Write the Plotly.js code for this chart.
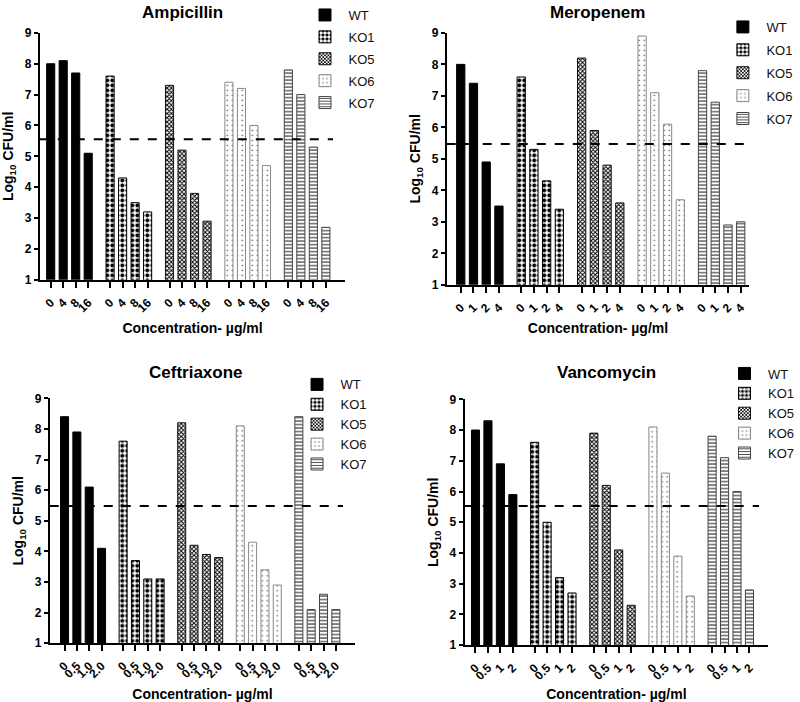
<!DOCTYPE html>
<html><head><meta charset="utf-8">
<script src="https://cdn.plot.ly/plotly-3.0.1.min.js"></script>
<style>body{margin:0;background:#fff}</style>
</head><body><div id="chart" style="width:800px;height:702px"></div>
<script>
// ---------------- DATA ----------------
const strains = ['WT', 'KO1', 'KO5', 'KO6', 'KO7'];
const drugTitles = ['Ampicillin', 'Meropenem', 'Ceftriaxone', 'Vancomycin'];

const ampicillinConc = ['0', '4', '8', '16'];
const ampicillinWT  = [8.0, 8.1, 7.7, 5.1];
const ampicillinKO1 = [7.6, 4.3, 3.5, 3.2];
const ampicillinKO5 = [7.3, 5.2, 3.8, 2.9];
const ampicillinKO6 = [7.4, 7.2, 6.0, 4.7];
const ampicillinKO7 = [7.8, 7.0, 5.3, 2.7];

const meropenemConc = ['0', '1', '2', '4'];
const meropenemWT  = [8.0, 7.4, 4.9, 3.5];
const meropenemKO1 = [7.6, 5.3, 4.3, 3.4];
const meropenemKO5 = [8.2, 5.9, 4.8, 3.6];
const meropenemKO6 = [8.9, 7.1, 6.1, 3.7];
const meropenemKO7 = [7.8, 6.8, 2.9, 3.0];

const ceftriaxoneConc = ['0', '0.5', '1.0', '2.0'];
const ceftriaxoneWT  = [8.4, 7.9, 6.1, 4.1];
const ceftriaxoneKO1 = [7.6, 3.7, 3.1, 3.1];
const ceftriaxoneKO5 = [8.2, 4.2, 3.9, 3.8];
const ceftriaxoneKO6 = [8.1, 4.3, 3.4, 2.9];
const ceftriaxoneKO7 = [8.4, 2.1, 2.6, 2.1];

const vancomycinConc = ['0', '0.5', '1', '2'];
const vancomycinWT  = [8.0, 8.3, 6.9, 5.9];
const vancomycinKO1 = [7.6, 5.0, 3.2, 2.7];
const vancomycinKO5 = [7.9, 6.2, 4.1, 2.3];
const vancomycinKO6 = [8.1, 6.6, 3.9, 2.6];
const vancomycinKO7 = [7.8, 7.1, 6.0, 2.8];

const thresholds = [5.55, 5.47, 5.48, 5.53];

const panelConc = [ampicillinConc, meropenemConc, ceftriaxoneConc, vancomycinConc];
const panelValues = [
  [ampicillinWT, ampicillinKO1, ampicillinKO5, ampicillinKO6, ampicillinKO7],
  [meropenemWT, meropenemKO1, meropenemKO5, meropenemKO6, meropenemKO7],
  [ceftriaxoneWT, ceftriaxoneKO1, ceftriaxoneKO5, ceftriaxoneKO6, ceftriaxoneKO7],
  [vancomycinWT, vancomycinKO1, vancomycinKO5, vancomycinKO6, vancomycinKO7]
];

// ---------------- LAYOUT / STYLE ----------------
const W = 800, H = 702;
const px = x => x / W;
const py = y => 1 - y / H;
const GROUP_STEP = 4.75;

const panels = [
  {dx: [40, 347], dy: [30, 278], range: [-0.87, 23.55], title: [183, 10], leg: [350, 11], gap: 2, dashEnd: 0.96, xts: 9},
  {dx: [449, 753], dy: [30, 283], range: [-1.1, 22.67], title: [600, 10], leg: [770, 23], gap: 3, dashEnd: 1.0, xts: 9},
  {dx: [50, 357], dy: [397, 643], range: [-1.2, 23.57], title: [197, 371], leg: [342, 382], gap: 0, dashEnd: 0.96, xts: 12},
  {dx: [467, 772], dy: [398, 645], range: [-0.87, 23.5], title: [610, 371], leg: [772, 371], gap: 0, dashEnd: 0.97, xts: 10}
];

const FONT = "Arial, 'Liberation Sans', sans-serif";

const strainStyles = {
  WT:  {color: '#000', line: {color: '#000', width: 1}},
  KO1: {color: '#fff', line: {color: '#000', width: 1},
        pattern: {shape: '.', fgcolor: '#000', bgcolor: '#fff', size: 5, solidity: 0.5, fillmode: 'replace'}},
  KO5: {color: '#fff', line: {color: '#111', width: 1},
        pattern: {shape: 'x', fgcolor: '#000', bgcolor: '#fff', size: 3, solidity: 0.55, fillmode: 'replace'}},
  KO6: {color: '#fff', line: {color: '#888', width: 1},
        pattern: {shape: '.', fgcolor: '#555', bgcolor: '#fff', size: 5, solidity: 0.08, fillmode: 'replace'}},
  KO7: {color: '#fff', line: {color: '#444', width: 1},
        pattern: {shape: '-', fgcolor: '#444', bgcolor: '#fff', size: 3.5, solidity: 0.35, fillmode: 'replace'}}
};

const traces = [];
const layout = {
  width: W, height: H,
  margin: {l: 0, r: 0, t: 0, b: 0},
  paper_bgcolor: '#fff', plot_bgcolor: '#fff',
  barmode: 'overlay',
  font: {family: FONT, color: '#000'},
  annotations: [], shapes: []
};

panels.forEach((p, k) => {
  const sfx = k === 0 ? '' : String(k + 1);
  const conc = panelConc[k];
  const tickPos = [];
  const tickTxt = [];
  strains.forEach((s, g) => {
    const xs = conc.map((c, i) => g * GROUP_STEP + i);
    xs.forEach((x, i) => { tickPos.push(x); tickTxt.push(conc[i]); });
    traces.push({
      type: 'bar', name: s, x: xs, y: panelValues[k][g], width: 0.65,
      xaxis: 'x' + sfx, yaxis: 'y' + sfx, legend: 'legend' + sfx,
      legendgroup: 'p' + k + s,
      marker: strainStyles[s], hoverinfo: 'skip'
    });
  });
  layout['xaxis' + sfx] = {
    domain: [px(p.dx[0]), px(p.dx[1])], anchor: 'y' + sfx, range: p.range,
    showgrid: false, zeroline: false, showline: true, linecolor: '#000', linewidth: 2,
    ticks: 'outside', ticklen: 6, tickwidth: 2, tickcolor: '#000',
    tickmode: 'array', tickvals: tickPos, ticktext: tickTxt, tickangle: -45,
    ticklabelstandoff: 3,
    tickfont: {family: FONT, size: 12, weight: 700, color: '#000'},
    title: {text: 'Concentration- \u00b5g/ml', font: {family: FONT, size: 14, weight: 700, color: '#000'}, standoff: p.xts},
    fixedrange: true
  };
  layout['yaxis' + sfx] = {
    domain: [py(p.dy[1]), py(p.dy[0])], anchor: 'x' + sfx, range: [1, 9],
    showgrid: false, zeroline: false, showline: true, linecolor: '#000', linewidth: 2,
    ticks: 'outside', ticklen: 4, tickwidth: 2, tickcolor: '#000', dtick: 1,
    tickfont: {family: FONT, size: 12, weight: 700, color: '#000'},
    title: {text: 'Log<sub>10</sub> CFU/ml', font: {family: FONT, size: 14, weight: 700, color: '#000'}, standoff: 8},
    fixedrange: true
  };
  layout['legend' + sfx] = {
    x: px(p.leg[0] - 47), y: py(p.leg[1] - 14), xanchor: 'left', yanchor: 'top',
    bgcolor: 'rgba(0,0,0,0)', font: {family: FONT, size: 13, color: '#111'},
    itemwidth: 37, tracegroupgap: p.gap, traceorder: 'grouped'
  };
  layout.annotations.push({
    text: drugTitles[k], xref: 'paper', yref: 'paper', x: px(p.title[0]), y: py(p.title[1]),
    xanchor: 'center', yanchor: 'middle', showarrow: false,
    font: {family: FONT, size: 17, weight: 700, color: '#000'}
  });
  layout.shapes.push({
    type: 'line', xref: 'x' + sfx + ' domain', yref: 'y' + sfx,
    x0: 0, x1: p.dashEnd, y0: thresholds[k], y1: thresholds[k],
    line: {color: '#000', width: 2, dash: 'dash'}
  });
});

Plotly.newPlot('chart', traces, layout, {displayModeBar: false, staticPlot: true});
</script>
</body></html>
